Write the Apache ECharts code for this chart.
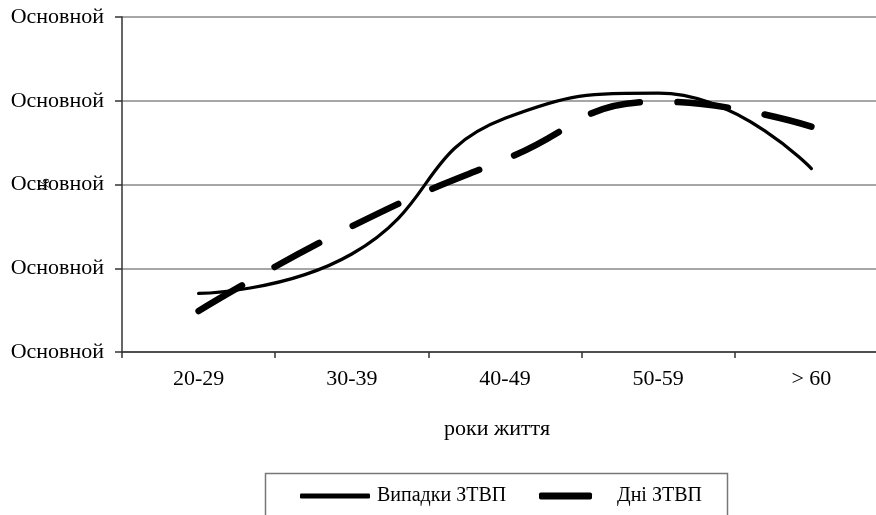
<!DOCTYPE html>
<html>
<head>
<meta charset="utf-8">
<script src="https://cdn.jsdelivr.net/npm/echarts@6/dist/echarts.min.js"></script>
<style>
  html, body { margin: 0; padding: 0; background: #ffffff; }
  #chart { width: 876px; height: 515px; }
</style>
</head>
<body>
<div id="chart"></div>
<script>
// Age groups on the horizontal axis
const categories = ['20-29', '30-39', '40-49', '50-59', '> 60'];
// Cases of temporary disability
const casesValues = [0.70, 1.17, 2.79, 3.09, 2.19];
// Days of temporary disability
const daysValues = [0.49, 1.50, 2.30, 2.99, 2.69];
// Value axis ticks (all labelled with the same text)
const yTicks = [0, 1, 2, 3, 4];
const yTickLabel = 'Основной';
const seriesNames = ['Випадки ЗТВП', 'Дні ЗТВП'];

const FONT = '"Liberation Serif", "DejaVu Serif", serif';

const chart = echarts.init(document.getElementById('chart'), null, { renderer: 'canvas' });

chart.setOption({
  backgroundColor: '#ffffff',
  animation: false,
  // plot area runs slightly past the right edge of the canvas
  grid: { left: 122, width: 766, top: 17, bottom: 163, containLabel: false, outerBoundsMode: 'none' },
  xAxis: {
    type: 'category',
    data: categories,
    boundaryGap: true,
    name: 'роки життя',
    nameLocation: 'middle',
    nameGap: 66,
    nameTextStyle: { fontFamily: FONT, fontSize: 22, color: '#000', padding: [0, 16, 0, 0] },
    axisLine: { lineStyle: { color: '#333', width: 1.5 } },
    axisTick: { show: true, length: 6, inside: false, lineStyle: { color: '#333', width: 1.5 } },
    axisLabel: { fontFamily: FONT, fontSize: 22, color: '#000', margin: 16 },
    splitLine: { show: false }
  },
  yAxis: {
    type: 'value',
    min: yTicks[0],
    max: yTicks[yTicks.length - 1],
    interval: 1,
    axisLine: { show: true, lineStyle: { color: '#333', width: 1.5 } },
    axisTick: { show: true, length: 7, lineStyle: { color: '#333', width: 1.5 } },
    axisLabel: { fontFamily: FONT, fontSize: 22, color: '#000', margin: 18, formatter: () => yTickLabel },
    splitLine: { show: true, lineStyle: { color: '#888', width: 1.5 } }
  },
  legend: [
    {
      data: [{ name: seriesNames[0], icon: 'roundRect' }],
      left: 295, top: 481,
      itemWidth: 70, itemHeight: 5,
      textStyle: { fontFamily: FONT, fontSize: 20, color: '#000', padding: [0, 0, 0, 2] },
      selectedMode: false
    },
    {
      data: [{ name: seriesNames[1], icon: 'roundRect' }],
      left: 534, top: 481,
      itemWidth: 53, itemHeight: 7,
      textStyle: { fontFamily: FONT, fontSize: 20, color: '#000', padding: [0, 0, 0, 20] },
      selectedMode: false
    }
  ],
  graphic: [
    {
      type: 'rect',
      shape: { x: 265.5, y: 473.5, width: 462, height: 60 },
      style: { fill: 'none', stroke: '#777', lineWidth: 1.5 },
      silent: true,
      z: -1
    },
    {
      // value axis title, rotated
      type: 'text',
      x: 42.5, y: 184,
      rotation: -Math.PI / 2,
      style: { text: '%', fontFamily: FONT, fontSize: 14, fill: '#000', align: 'center', verticalAlign: 'middle' },
      silent: true
    }
  ],
  series: [
    {
      name: seriesNames[0],
      type: 'line',
      data: casesValues,
      smooth: 0.5,
      symbol: 'none',
      itemStyle: { color: '#000' },
      lineStyle: { color: '#000', width: 3.2, cap: 'round' }
    },
    {
      name: seriesNames[1],
      type: 'line',
      data: daysValues,
      smooth: 0.5,
      symbol: 'none',
      itemStyle: { color: '#000' },
      lineStyle: { color: '#000', width: 6.5, type: [50.5, 37.5], cap: 'round' }
    }
  ]
});
</script>
</body>
</html>
